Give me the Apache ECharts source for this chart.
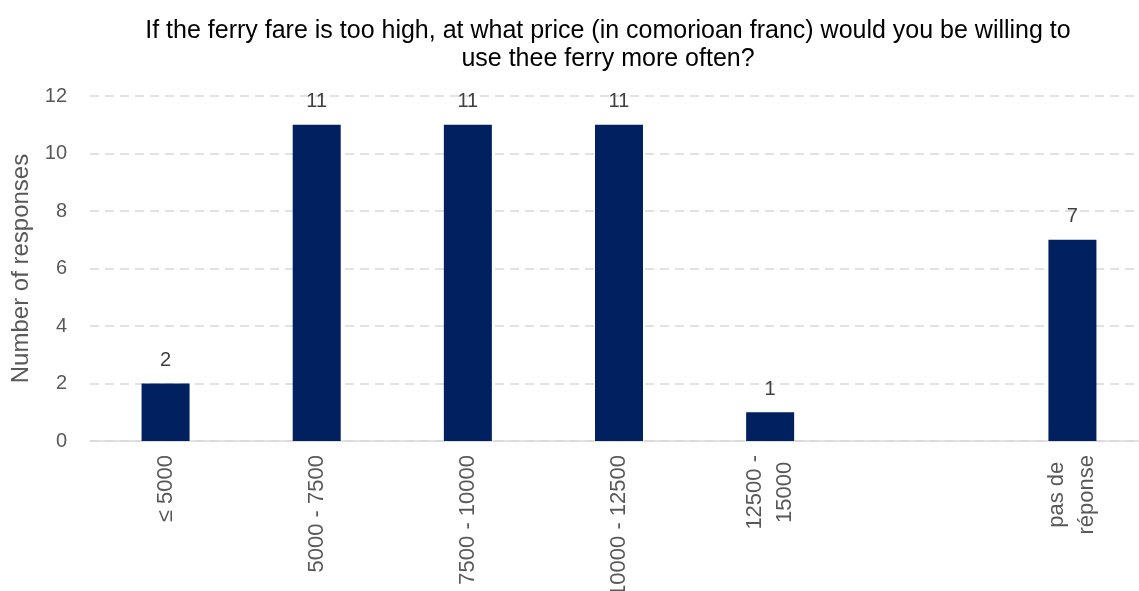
<!DOCTYPE html>
<html>
<head>
<meta charset="utf-8">
<script src="https://cdn.jsdelivr.net/npm/echarts@6/dist/echarts.min.js"></script>
<style>
  html, body { margin: 0; padding: 0; background: #ffffff; }
  #chart { width: 1139px; height: 591px; }
</style>
</head>
<body>
<div id="chart"></div>
<script>
// Price ranges (comorian franc); the blank slot separates the ranges from "no answer"
const categories = ['≤ 5000', '5000 - 7500', '7500 - 10000', '10000 - 12500', '12500 -\n15000', '', 'pas de\nréponse'];
const responses = [2, 11, 11, 11, 1, null, 7];
const yTicks = { min: 0, max: 12, interval: 2 };

const FONT = '"Liberation Sans", "DejaVu Sans", sans-serif';

const chart = echarts.init(document.getElementById('chart'), null, { renderer: 'canvas' });
chart.setOption({
  animation: false,
  backgroundColor: '#ffffff',
  title: {
    text: 'If the ferry fare is too high, at what price (in comorioan franc) would you be willing to\nuse thee ferry more often?',
    left: 603,
    top: 12,
    textAlign: 'center',
    textStyle: { fontFamily: FONT, fontSize: 25, fontWeight: 'normal', color: '#000000', lineHeight: 28, align: 'center' }
  },
  // plot runs a little past the right edge of the canvas
  grid: { left: 90, width: 1058, top: 96, bottom: 150, containLabel: false, outerBoundsMode: 'none' },
  xAxis: {
    type: 'category',
    data: categories,
    axisLine: { show: true, lineStyle: { color: '#d9d9d9', width: 1.5 } },
    axisTick: { show: false },
    axisLabel: {
      interval: 0,
      rotate: 90,
      margin: 14,
      lineHeight: 30,
      fontFamily: FONT,
      fontSize: 22,
      color: '#595959',
      formatter: function (v) {
        if (!v) return '';
        return v.split('\n').map(function (s) { return '{c|' + s + '}'; }).join('\n');
      },
      rich: { c: { align: 'center', fontFamily: FONT, fontSize: 22, color: '#595959', lineHeight: 30 } }
    }
  },
  yAxis: {
    type: 'value',
    min: yTicks.min,
    max: yTicks.max,
    interval: yTicks.interval,
    name: 'Number of responses',
    nameLocation: 'middle',
    nameGap: 56,
    nameTextStyle: { fontFamily: FONT, fontSize: 24, color: '#595959' },
    axisLine: { show: false },
    axisTick: { show: false },
    axisLabel: { fontFamily: FONT, fontSize: 20, color: '#595959', margin: 23 },
    splitLine: { show: true, lineStyle: { color: '#d9d9d9', width: 1.5, type: [9, 6] } }
  },
  series: [{
    type: 'bar',
    data: responses,
    barWidth: 48,
    itemStyle: { color: '#002060' },
    label: {
      show: true,
      position: 'top',
      distance: 13,
      fontFamily: FONT,
      fontSize: 20,
      color: '#404040'
    }
  }]
});
</script>
</body>
</html>
